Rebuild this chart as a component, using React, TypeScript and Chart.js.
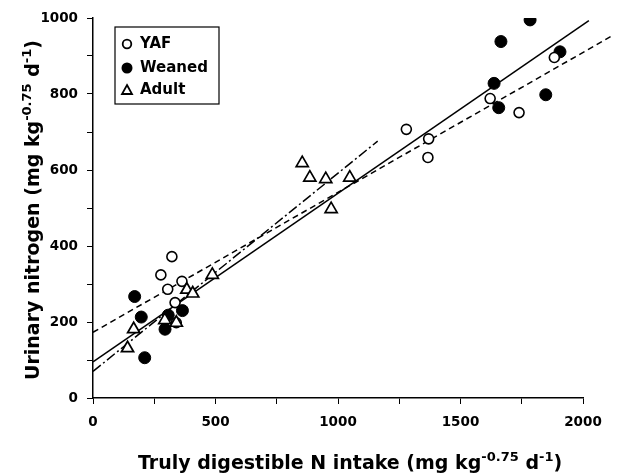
import React, { useEffect, useRef } from "react";
import { Chart, registerables } from "chart.js";

Chart.register(...registerables);

// ---- Data ----
const yafX = [322, 277, 363, 305, 335, 340, 1279, 1370, 1367, 1621, 1739, 1883];
const yafY = [372, 324, 307, 286, 251, 198, 707, 682, 633, 788, 751, 896];

const weanedX = [170, 197, 307, 365, 294, 211, 1637, 1656, 1665, 1784, 1848, 1906];
const weanedY = [267, 213, 218, 230, 181, 106, 828, 764, 938, 995, 798, 911];

const adultX = [141, 166, 293, 340, 383, 407, 487, 854, 885, 950, 972, 1048];
const adultY = [131, 181, 205, 198, 285, 275, 324, 618, 580, 576, 497, 580];

// regression lines: [x0, x1], [y0, y1]
const solidLineX = [0, 2024];
const solidLineY = [95, 993];
const dashedLineX = [0, 2113];
const dashedLineY = [173, 951];
const dashDotLineX = [0, 1162];
const dashDotLineY = [70, 676];

const xTicksLabelled = [0, 500, 1000, 1500, 2000];
const yTicksLabelled = [0, 200, 400, 600, 800, 1000];

const legendLabels = ["YAF", "Weaned", "Adult"];

const FONT = '"DejaVu Sans", sans-serif';

const pts = (xs: number[], ys: number[]) => xs.map((x, i) => ({ x, y: ys[i] }));

type Part = { t: string; sup?: boolean };
const xTitle: Part[] = [
  { t: "Truly digestible N intake (mg kg" },
  { t: "-0.75", sup: true },
  { t: " d" },
  { t: "-1", sup: true },
  { t: ")" },
];
const yTitle: Part[] = [
  { t: "Urinary nitrogen (mg kg" },
  { t: "-0.75", sup: true },
  { t: " d" },
  { t: "-1", sup: true },
  { t: ")" },
];

const MAIN = 19;
const SUP = 13;

function drawRich(ctx: CanvasRenderingContext2D, parts: Part[], cx: number, by: number) {
  const widths = parts.map((p) => {
    ctx.font = `bold ${p.sup ? SUP : MAIN}px ${FONT}`;
    return ctx.measureText(p.t).width;
  });
  const total = widths.reduce((a, b) => a + b, 0);
  let x = cx - total / 2;
  ctx.textAlign = "left";
  ctx.textBaseline = "alphabetic";
  ctx.fillStyle = "#000";
  parts.forEach((p, i) => {
    ctx.font = `bold ${p.sup ? SUP : MAIN}px ${FONT}`;
    ctx.fillText(p.t, x, p.sup ? by - 8 : by);
    x += widths[i];
  });
}

const decorPlugin = {
  id: "decor",
  afterDraw(chart: any) {
    const ctx: CanvasRenderingContext2D = chart.ctx;
    const ca = chart.chartArea;
    ctx.save();
    // x title
    drawRich(ctx, xTitle, 350, 469);
    // y title
    ctx.save();
    ctx.translate(39, 210);
    ctx.rotate(-Math.PI / 2);
    drawRich(ctx, yTitle, 0, 0);
    ctx.restore();

    // legend box
    const bx = ca.left + 22;
    const by = ca.top + 9;
    const bw = 104;
    const bh = 77;
    ctx.fillStyle = "#fff";
    ctx.fillRect(bx, by, bw, bh);
    ctx.strokeStyle = "#000";
    ctx.lineWidth = 1.2;
    ctx.strokeRect(bx, by, bw, bh);
    const rows = [by + 17, by + 41, by + 63];
    ctx.font = `bold 15px ${FONT}`;
    ctx.textBaseline = "middle";
    ctx.textAlign = "left";
    legendLabels.forEach((lab, i) => {
      ctx.fillStyle = "#000";
      ctx.fillText(lab, bx + 25, rows[i]);
      const sx = bx + 12;
      const sy = rows[i];
      ctx.lineWidth = 1.8;
      ctx.strokeStyle = "#000";
      if (i === 0) {
        ctx.beginPath();
        ctx.arc(sx, sy, 4.3, 0, Math.PI * 2);
        ctx.fillStyle = "#fff";
        ctx.fill();
        ctx.stroke();
      } else if (i === 1) {
        ctx.beginPath();
        ctx.arc(sx, sy, 5.5, 0, Math.PI * 2);
        ctx.fillStyle = "#000";
        ctx.fill();
      } else {
        ctx.beginPath();
        ctx.moveTo(sx, sy - 5);
        ctx.lineTo(sx + 5, sy + 4);
        ctx.lineTo(sx - 5, sy + 4);
        ctx.closePath();
        ctx.stroke();
      }
    });
    ctx.restore();
  },
};

export default function App() {
  const ref = useRef<HTMLCanvasElement | null>(null);
  useEffect(() => {
    if (!ref.current) return;
    const lineDs = (xs: number[], ys: number[], dash: number[]) => ({
      type: "line" as const,
      data: pts(xs, ys),
      borderColor: "#000",
      borderWidth: 1.5,
      borderDash: dash,
      pointRadius: 0,
      fill: false,
      showLine: true,
      clip: false,
      order: 10,
      tension: 0,
    });
    const chart = new Chart(ref.current, {
      type: "scatter",
      data: {
        datasets: [
          lineDs(solidLineX, solidLineY, []),
          lineDs(dashedLineX, dashedLineY, [6, 4]),
          lineDs(dashDotLineX, dashDotLineY, [10, 3, 2, 3]),
          {
            label: legendLabels[0],
            data: pts(yafX, yafY),
            pointStyle: "circle",
            pointRadius: 5,
            pointBorderWidth: 1.6,
            pointBorderColor: "#000",
            pointBackgroundColor: "#fff",
            order: 1,
          },
          {
            label: legendLabels[1],
            data: pts(weanedX, weanedY),
            pointStyle: "circle",
            pointRadius: 6,
            pointBorderWidth: 1,
            pointBorderColor: "#000",
            pointBackgroundColor: "#000",
            order: 1,
          },
          {
            label: legendLabels[2],
            data: pts(adultX, adultY),
            pointStyle: "triangle",
            pointRadius: 7,
            pointBorderWidth: 1.7,
            pointBorderColor: "#000",
            pointBackgroundColor: "#fff",
            order: 0,
          },
        ] as any,
      },
      options: {
        animation: false,
        responsive: false,
        maintainAspectRatio: false,
        layout: { padding: { top: 18, right: 46, left: 0, bottom: 0 } },
        plugins: { legend: { display: false }, tooltip: { enabled: false } },
        scales: {
          x: {
            type: "linear",
            min: 0,
            max: 2000,
            afterFit: (s: any) => {
              s.height = 76;
            },
            ticks: {
              stepSize: 250,
              autoSkip: false,
              maxRotation: 0,
              padding: 10,
              color: "#000",
              font: { family: FONT, size: 13.5, weight: "bold" },
              callback: (v: any) => (xTicksLabelled.includes(Number(v)) ? String(v) : ""),
            },
            grid: { display: true, drawOnChartArea: false, drawTicks: true, tickLength: 6, color: "#000", lineWidth: 1 },
            border: { display: true, color: "#000", width: 1.5 },
          },
          y: {
            type: "linear",
            min: 0,
            max: 1000,
            afterFit: (s: any) => {
              s.width = 93;
            },
            ticks: {
              stepSize: 100,
              autoSkip: false,
              padding: 9,
              color: "#000",
              font: { family: FONT, size: 13.5, weight: "bold" },
              callback: (v: any) => (yTicksLabelled.includes(Number(v)) ? String(v) : ""),
            },
            grid: { display: true, drawOnChartArea: false, drawTicks: true, tickLength: 6, color: "#000", lineWidth: 1 },
            border: { display: true, color: "#000", width: 1.5 },
          },
        },
      },
      plugins: [decorPlugin],
    } as any);
    return () => chart.destroy();
  }, []);
  return (
    <div style={{ position: "absolute", left: 0, top: 0, width: 629, height: 474, background: "#fff" }}>
      <canvas ref={ref} width={629} height={474} style={{ display: "block" }} />
    </div>
  );
}
